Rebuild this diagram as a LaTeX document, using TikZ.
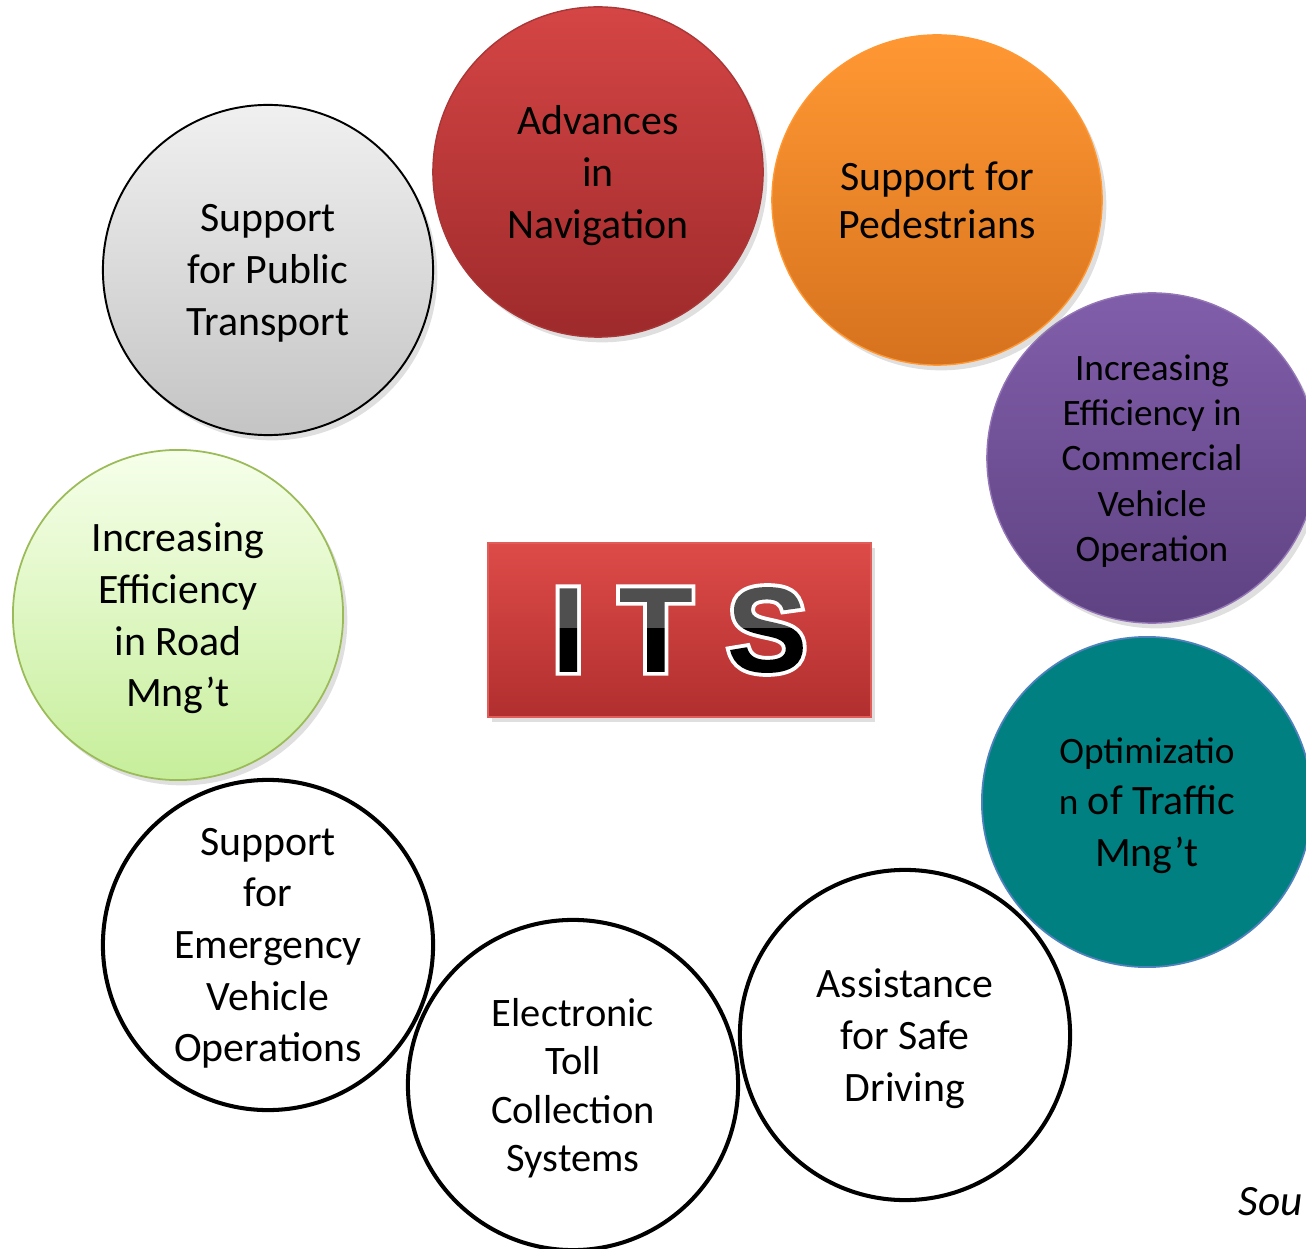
\documentclass[tikz,border=0pt]{standalone}
\usepackage{fontspec}
\setmainfont{Carlito}
\newfontfamily\itsfont{Liberation Sans}
\usetikzlibrary{shadows}
\definecolor{navtop}{HTML}{D54545}
\definecolor{navbot}{HTML}{9E2A2B}
\definecolor{pedtop}{HTML}{FF9833}
\definecolor{pedbot}{HTML}{D6721E}
\definecolor{pubtop}{HTML}{F0F0F0}
\definecolor{pubbot}{HTML}{C4C4C4}
\definecolor{comtop}{HTML}{815EAA}
\definecolor{combot}{HTML}{5E4282}
\definecolor{roadtop}{HTML}{F6FFEA}
\definecolor{roadbot}{HTML}{C6EE9A}
\definecolor{roadline}{HTML}{9BBB59}
\definecolor{teal}{HTML}{008080}
\definecolor{tealline}{HTML}{4F81BD}
\definecolor{boxtop}{HTML}{DD4B48}
\definecolor{boxbot}{HTML}{B12F2F}

% letters: white outline, clipped fill dark gray over black
\newcommand{\itsletters}[1]{%
  \special{pdf:literal direct q 1 1 1 RG 2.2 w 5 Tr}#1%
  \special{pdf:literal direct 0 Tr}%
  \special{pdf:literal 0 0 0 rg -78 -10 82 22.3 re f 0.31 0.31 0.31 rg -78 12.3 82 24 re f}%
  \special{pdf:literal direct Q}}

\begin{document}
\begin{tikzpicture}[x=0.01cm,y=-0.01cm,
    bubble/.style={circle,minimum size=3.3cm,inner sep=0pt,align=center,text depth=0pt,
        font=\fontsize{11.9}{14.7}\selectfont},
    softshadow/.style={drop shadow={opacity=0.25,shadow xshift=1.2pt,shadow yshift=-1.5pt}},
    ring/.style={bubble,draw=black,line width=1.15pt}]

    \useasboundingbox (0,0) rectangle (1306,1249);

    % top row
    \node[bubble,softshadow,top color=pubtop,bottom color=pubbot,draw=black,line width=0.55pt]
        (pub) at (268,270) {Support\\for Public\\Transport};
    \node[bubble,softshadow,top color=navtop,bottom color=navbot,draw=navtop!80!black,line width=0.4pt]
        (nav) at (598,172) {Advances\\in\\Navigation};
    \node[bubble,softshadow,top color=comtop,bottom color=combot,draw=comtop!85!white,line width=0.4pt,
        font=\fontsize{10.6}{12.9}\selectfont]
        (com) at (1152,458) {Increasing\\Efficiency in\\Commercial\\Vehicle\\Operation};
    \node[bubble,softshadow,top color=pedtop,bottom color=pedbot,draw=pedtop,line width=0.4pt,
        font=\fontsize{11.9}{13.8}\selectfont]
        (ped) at (937,200) {Support for\\Pedestrians};

    % left side
    \node[bubble,softshadow,top color=roadtop,bottom color=roadbot,draw=roadline,line width=0.5pt]
        (road) at (178,615) {Increasing\\Efficiency\\in Road\\Mng’t};

    % bottom row
    \node[ring] (emg) at (268,945) {Support\\for\\Emergency\\Vehicle\\Operations};
    \node[ring,font=\fontsize{11.5}{13.8}\selectfont] (toll) at (573,1085) {Electronic\\Toll\\Collection\\Systems};
    \node[ring] (safe) at (905,1035) {Assistance\\for Safe\\Driving};
    \node[bubble,fill=teal,draw=tealline,line width=0.5pt]
        (traf) at (1147,802) {{\fontsize{10.6}{14}\selectfont Optimizatio}\\{\fontsize{10.6}{14}\selectfont n} of Traffic\\Mng’t};

    \node[anchor=base west,inner sep=0pt,font=\itshape\fontsize{12.3}{14}\selectfont] (src) at (1238,1215) {Sou};

    % centre box
    \node[softshadow,top color=boxtop,bottom color=boxbot,draw=boxtop!90!white,line width=0.4pt,
        minimum width=3.83cm,minimum height=1.74cm,inner sep=0pt,
        font=\itsfont\bfseries\fontsize{34.5}{40}\selectfont]
        (its) at (679.5,630) {\itsletters{I T S}};
\end{tikzpicture}
\end{document}
